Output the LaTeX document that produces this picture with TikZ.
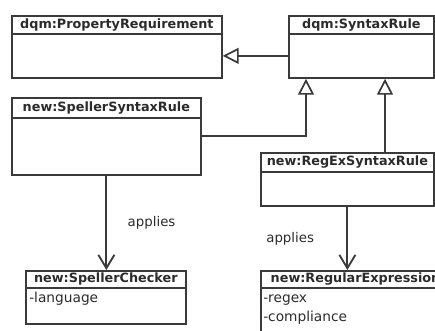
\documentclass[tikz,border=0pt]{standalone}
\usepackage{fontspec}
\setmainfont{DejaVu Sans}
\usetikzlibrary{arrows.meta}
\definecolor{umlline}{HTML}{3A3A3A}
\definecolor{umltext}{HTML}{2B2B2B}
\tikzset{
  hdr/.style={draw=umlline, line width=1.3pt, anchor=north west, inner sep=0pt,
    font=\bfseries\fontsize{9.6}{11}\selectfont, text=umltext},
  body/.style={draw=umlline, line width=1.3pt, anchor=north west, inner sep=0pt},
  attr/.style={anchor=west, inner sep=0pt, font=\fontsize{10.3}{12}\selectfont, text=umltext},
  gen/.style={draw=umlline, line width=1.3pt,
    -{Triangle[open,length=12pt,width=12pt,fill=white]}},
  applies/.style={draw=umlline, line width=1.4pt, -{Straight Barb[length=10pt,width=12pt]}},
  lbl/.style={font=\fontsize{10}{12}\selectfont, text=umltext}
}
\begin{document}
\begin{tikzpicture}[x=0.75pt,y=-0.75pt]
  \useasboundingbox (0,0) rectangle (435,330);
  \clip (0,0) rectangle (435,330);

  % upper classes
  \node[hdr, minimum width=157.5pt, minimum height=13.5pt] (pr-h) at (11,15) {dqm:PropertyRequirement};
  \node[body, minimum width=157.5pt, minimum height=33pt] (pr) at (11,33) {};
  \node[hdr, minimum width=108.75pt, minimum height=13.5pt] (sr-h) at (288,15) {dqm:SyntaxRule};
  \node[body, minimum width=108.75pt, minimum height=33pt] (sr) at (288,33) {};

  % rules
  \node[hdr, minimum width=141.75pt, minimum height=15pt] (ssr-h) at (11,97) {new:SpellerSyntaxRule};
  \node[body, minimum width=141.75pt, minimum height=42.75pt] (ssr) at (11,117) {};
  \node[hdr, minimum width=129.75pt, minimum height=14.25pt] (rx-h) at (260,152) {new:RegExSyntaxRule};
  \node[body, minimum width=129.75pt, minimum height=25.5pt] (rx) at (260,171) {};

  % applied classes
  \node[hdr, minimum width=120pt, minimum height=12.75pt] (sc-h) at (25,270) {new:SpellerChecker};
  \node[body, minimum width=120pt, minimum height=27pt] (sc) at (25,287) {};
  \node[attr] (lang) at (29,299) {-language};
  \node[hdr, minimum width=142pt, minimum height=12.75pt] (re-h) at (260,270) {new:RegularExpression};
  \node[body, minimum width=142pt, minimum height=45pt] (re) at (260,287) {};
  \node[attr] (rgx) at (263,300) {-regex};
  \node[attr] (cmp) at (263,318) {-compliance};

  % generalisations
  \coordinate (t1) at ([xshift=13.5pt]sr.south west);
  \coordinate (t2) at ([xshift=72.75pt]sr.south west);
  \draw[gen] (sr) -- (pr);
  \draw[gen] ([yshift=7.9pt]ssr.east) -| (t1);
  \draw[gen] (rx-h.north -| t2) -- (t2);

  % associations
  \draw[applies] (ssr.south) -- (ssr.south |- sc-h.north)
    node[lbl, midway, right=12pt] {applies};
  \draw[applies] (rx.south) -- (rx.south |- re-h.north)
    node[lbl, midway, left=21pt] {applies};
\end{tikzpicture}
\end{document}
